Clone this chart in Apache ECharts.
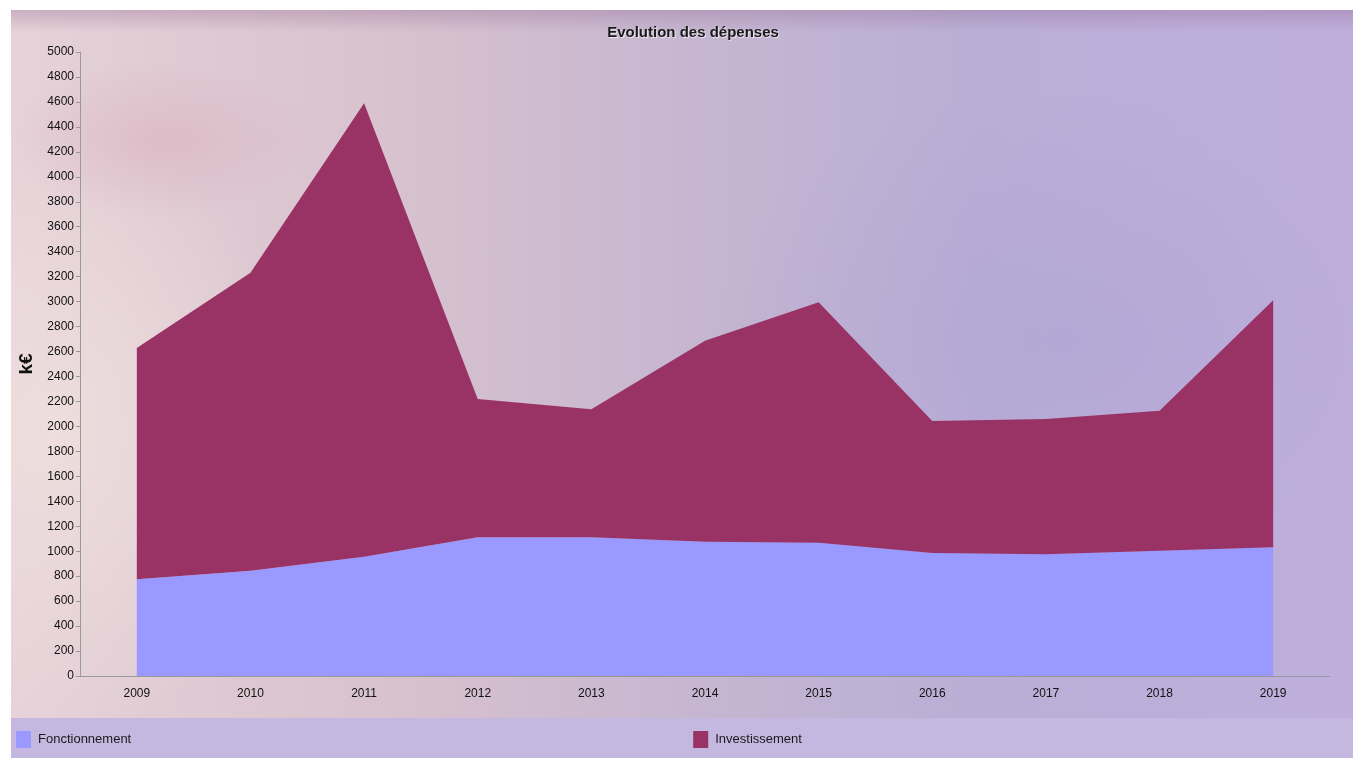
<!DOCTYPE html>
<html>
<head>
<meta charset="utf-8">
<script src="https://cdn.jsdelivr.net/npm/echarts@6/dist/echarts.min.js"></script>
<style>
html,body{margin:0;padding:0;background:#fff;width:1353px;height:758px;overflow:hidden;}
#panel{position:absolute;left:11px;top:10px;width:1342px;height:748px;
 background:
  linear-gradient(to bottom, rgba(150,110,150,0.35) 0px, rgba(150,110,150,0.0) 22px),
  radial-gradient(ellipse 150px 80px at 150px 130px, rgba(215,165,180,0.4), rgba(215,165,180,0) 100%),
  radial-gradient(ellipse 260px 300px at 40px 420px, rgba(240,225,222,0.8), rgba(240,225,222,0) 100%),
  radial-gradient(ellipse 350px 250px at 1050px 330px, rgba(170,160,210,0.45), rgba(170,160,210,0) 100%),
  linear-gradient(to right, #e6d2d8 0%, #d8c2ce 28%, #c6b6d0 50%, #baaed6 72%, #bfaedc 100%);}
#legendband{position:absolute;left:11px;top:718px;width:1342px;height:40px;background:#c4b8e0;}
#chart{position:absolute;left:0;top:0;width:1353px;height:758px;}
</style>
</head>
<body>
<div id="panel"></div>
<div id="legendband"></div>
<div id="chart"></div>
<script>
var years = ['2009','2010','2011','2012','2013','2014','2015','2016','2017','2018','2019'];
var fonctionnement = [775, 844, 956, 1111, 1111, 1076, 1068, 986, 975, 1004, 1031];
var investissement = [1853, 2388, 3634, 1108, 1026, 1611, 1927, 1057, 1084, 1122, 1979];
var yTicks = {min: 0, max: 5000, interval: 200};

var font = "'Liberation Sans Narrow', 'Arial Narrow', 'Liberation Sans', Arial, sans-serif";
var chart = echarts.init(document.getElementById('chart'), null, {renderer: 'canvas'});
chart.setOption({
  backgroundColor: 'transparent',
  animation: false,
  title: {
    text: 'Evolution des dépenses',
    left: 688, top: 20, textAlign: 'center',
    textStyle: {fontFamily: font, fontSize: 15, fontWeight: 'bold', color: '#1a1a1a',
      textShadowColor: 'rgba(255,255,255,0.7)', textShadowBlur: 1, textShadowOffsetX: 1, textShadowOffsetY: 1}
  },
  legend: {
    left: 16, top: 731, padding: 0, itemWidth: 15, itemHeight: 17, itemGap: 562,
    icon: 'rect',
    textStyle: {fontFamily: font, fontSize: 13, color: '#1a1a1a', padding: [0,0,0,2]},
    data: ['Fonctionnement', 'Investissement']
  },
  grid: {left: 80, right: 23, top: 52, bottom: 82},
  xAxis: {
    type: 'category', data: years, boundaryGap: true,
    axisLine: {lineStyle: {color: '#999', width: 1}},
    axisTick: {alignWithLabel: true, length: 5, lineStyle: {color: '#999'}},
    axisLabel: {fontFamily: font, fontSize: 12, color: '#111', margin: 12}
  },
  yAxis: {
    type: 'value', min: yTicks.min, max: yTicks.max, interval: yTicks.interval,
    name: 'k€', nameLocation: 'middle', nameGap: 40, nameRotate: 90,
    nameTextStyle: {fontFamily: "'Liberation Sans', Arial, sans-serif", fontSize: 19, fontWeight: 'bold', color: '#111'},
    axisLine: {show: true, lineStyle: {color: '#999', width: 1}},
    axisTick: {show: true, length: 4, lineStyle: {color: '#999'}},
    splitLine: {show: false},
    axisLabel: {fontFamily: font, fontSize: 12, color: '#111', margin: 6,
      formatter: function (v) { return String(v); }}
  },
  series: [
    {name: 'Fonctionnement', type: 'line', stack: 'total', data: fonctionnement,
     symbol: 'none', lineStyle: {width: 0}, itemStyle: {color: '#9999ff'},
     areaStyle: {color: '#9999ff', opacity: 1}},
    {name: 'Investissement', type: 'line', stack: 'total', data: investissement,
     symbol: 'none', lineStyle: {width: 0}, itemStyle: {color: '#993366'},
     areaStyle: {color: '#993366', opacity: 1}}
  ]
});
</script>
</body>
</html>
